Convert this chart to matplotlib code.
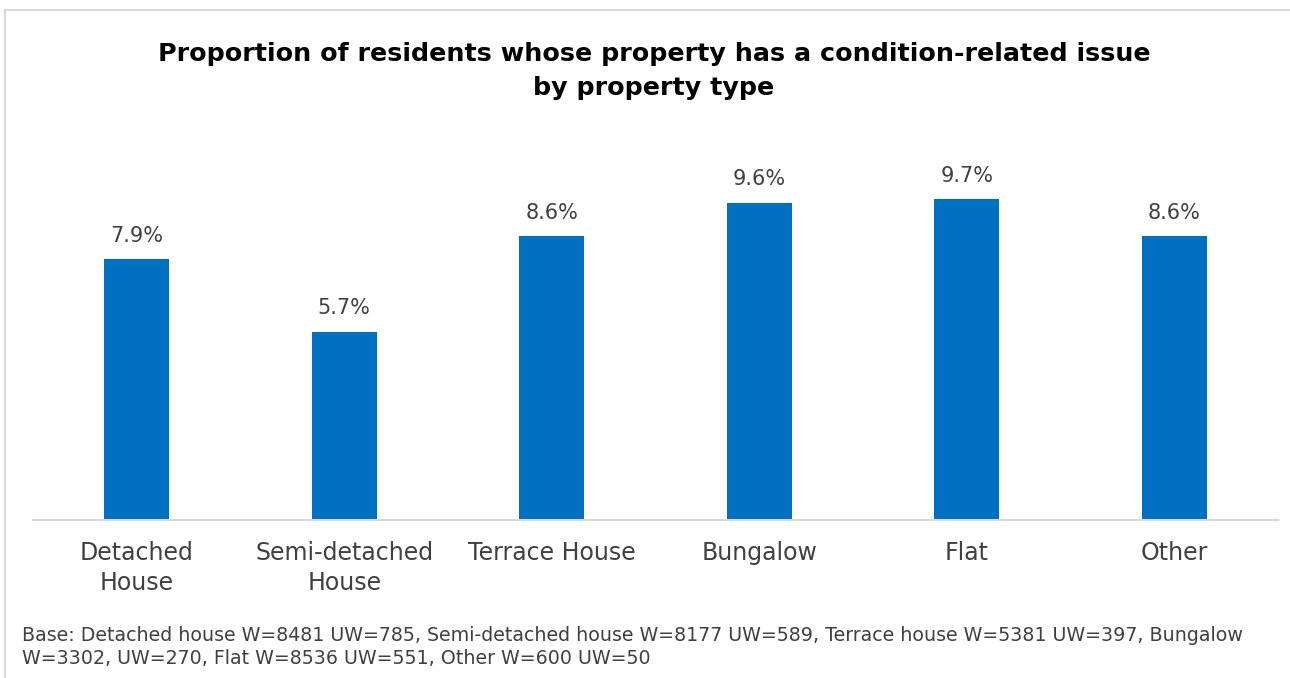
import matplotlib
matplotlib.use("Agg")
from matplotlib import pyplot as plt
from matplotlib.lines import Line2D

# %% data
categories = ["Detached\nHouse", "Semi-detached\nHouse", "Terrace House", "Bungalow", "Flat", "Other"]
values = [7.9, 5.7, 8.6, 9.6, 9.7, 8.6]
value_labels = ["7.9%", "5.7%", "8.6%", "9.6%", "9.7%", "8.6%"]

title = "Proportion of residents whose property has a condition-related issue\nby property type"
footnote = ("Base: Detached house W=8481 UW=785, Semi-detached house W=8177 UW=589, Terrace house W=5381 UW=397, Bungalow\n"
            "W=3302, UW=270, Flat W=8536 UW=551, Other W=600 UW=50")

plt.rcParams['font.family'] = ['DejaVu Sans']
W, H = 1290, 678
fig = plt.figure(figsize=(W / 100, H / 100), dpi=100)

# chart frame (only left and top edges are in view)
fx, fy = 5 / W, 1 - 10 / H
fig.lines.append(Line2D([fx, fx], [-0.1, fy], transform=fig.transFigure, color="#d9d9d9", linewidth=1.5))
fig.lines.append(Line2D([fx, 1.1], [fy, fy], transform=fig.transFigure, color="#d9d9d9", linewidth=1.5))

ax = fig.add_axes([33 / W, (H - 520) / H, (1278 - 33) / W, 390 / H])
x = range(len(categories))
bars = ax.bar(x, values, width=0.315, color="#0070C0")
ax.set_xlim(-0.5, len(categories) - 0.5)
ax.set_ylim(0, 11.8)

for b, lab in zip(bars, value_labels):
    ax.text(b.get_x() + b.get_width() / 2, b.get_height() + 0.4, lab,
            ha="center", va="bottom", fontsize=15, color="#404040")

for s in ["top", "right", "left"]:
    ax.spines[s].set_visible(False)
ax.spines["bottom"].set_color("#d9d9d9")
ax.spines["bottom"].set_linewidth(1.5)
ax.set_yticks([])
ax.set_xticks(list(x))
ax.set_xticklabels(categories, fontsize=17, color="#404040", linespacing=1.3)
ax.tick_params(axis="x", length=0, pad=15)

fig.text(0.507, 1 - 71 / H, title, ha="center", va="center", fontsize=18.3,
         fontweight="bold", color="black", linespacing=1.55)
fig.text(22 / W, 1 - 647 / H, footnote, ha="left", va="center", fontsize=13.7,
         color="#404040", linespacing=1.3)

fig.savefig("out.png", dpi=100)
